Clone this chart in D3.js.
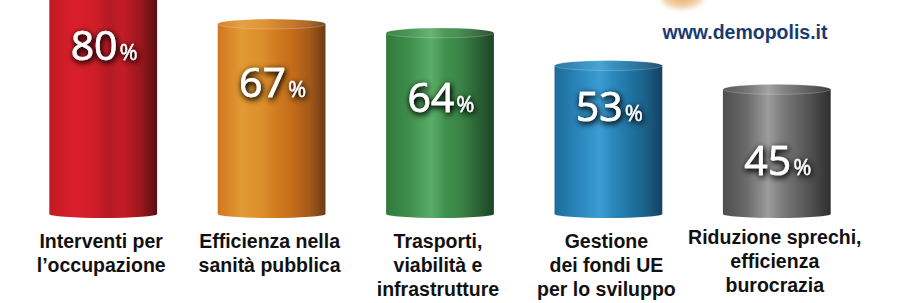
<!DOCTYPE html>
<html>
<head>
<meta charset="utf-8">
<script src="https://cdn.jsdelivr.net/npm/d3@7"></script>
<style>
  body { margin: 0; background: #fff; }
  svg { display: block; }
</style>
</head>
<body>
<svg id="chart"></svg>
<script>
// data
var categories = [
    ["Interventi per", "l\u2019occupazione"],
    ["Efficienza nella", "sanit\u00e0 pubblica"],
    ["Trasporti,", "viabilit\u00e0 e", "infrastrutture"],
    ["Gestione", "dei fondi UE", "per lo sviluppo"],
    ["Riduzione sprechi,", "efficienza", "burocrazia"]
]
var values = [80, 67, 64, 53, 45]
var siteLabel = "www.demopolis.it"

// cylinder shading, left -> right
var palettes = [
    ["#bf1a24", "#da1f2b", "#d01d28", "#b61a24", "#c41c27", "#9a161d", "#5a1015"],
    ["#d2761e", "#e29a33", "#dc8d2a", "#cf7b20", "#c66d1b", "#a45a19", "#6c3c14"],
    ["#2f7a3b", "#3f8f4c", "#5aae68", "#40904d", "#3a8546", "#2b6335", "#1c4425"],
    ["#1c6c99", "#2a85bb", "#3b9dd2", "#2b87bb", "#2176a6", "#1b5f88", "#143f5e"],
    ["#4e4e4e", "#6a6a6a", "#9c9c9c", "#7c7c7c", "#666666", "#4a4a4a", "#2e2e2e"]
]
var stopAt = [0, 0.22, 0.42, 0.55, 0.68, 0.85, 1]
// where the value label sits below the top of each bar
var labelDrop = [80, 78, 84, 60, 91]

var W = 900, H = 303
var baseY = 218
var capRy = 5

var svg = d3.select("#chart").attr("width", W).attr("height", H)
var defs = svg.append("defs")

var x = d3.scaleBand()
          .domain(d3.range(values.length))
          .range([19, 861])
          .paddingInner(0.36)
          .paddingOuter(0.18)

var y = d3.scaleLinear()
          .domain([0, 100])
          .range([baseY, baseY - 297])

// gradients
palettes.forEach((p, i) => {
    var g = defs.append("linearGradient")
                .attr("id", "cyl" + i)
                .attr("x1", "0%").attr("x2", "100%")
                .attr("y1", "0%").attr("y2", "0%")
    p.forEach((c, k) => {
        g.append("stop").attr("offset", stopAt[k]).attr("stop-color", c)
    })
    var gt = defs.append("linearGradient")
                 .attr("id", "cap" + i)
                 .attr("x1", "0%").attr("x2", "100%")
    p.forEach((c, k) => {
        gt.append("stop").attr("offset", stopAt[k])
          .attr("stop-color", d3.interpolateRgb(c, "#ffffff")(0.07))
    })
})

// dark glow behind white numbers
var f = defs.append("filter").attr("id", "glow")
            .attr("x", "-30%").attr("y", "-30%").attr("width", "160%").attr("height", "160%")
f.append("feGaussianBlur").attr("in", "SourceAlpha").attr("stdDeviation", 3).attr("result", "b")
f.append("feOffset").attr("in", "b").attr("dx", 0.5).attr("dy", 1.5).attr("result", "o")
f.append("feComponentTransfer").attr("in", "o").attr("result", "o2")
 .append("feFuncA").attr("type", "linear").attr("slope", 1.6)
f.append("feFlood").attr("flood-color", "#000").attr("flood-opacity", 0.9)
f.append("feComposite").attr("in2", "o2").attr("operator", "in").attr("result", "s")
var m = f.append("feMerge")
m.append("feMergeNode").attr("in", "s")
m.append("feMergeNode").attr("in", "SourceGraphic")

// soft blur for the logo fragment
defs.append("filter").attr("id", "soft")
    .append("feGaussianBlur").attr("stdDeviation", 2.5)
var lg = defs.append("radialGradient").attr("id", "logoGrad")
lg.append("stop").attr("offset", 0).attr("stop-color", "#e8ae6c")
lg.append("stop").attr("offset", 1).attr("stop-color", "#f5dcbc")

svg.append("ellipse")
   .attr("cx", 682).attr("cy", -2)
   .attr("rx", 21).attr("ry", 11)
   .attr("fill", "url(#logoGrad)")
   .attr("filter", "url(#soft)")

svg.append("text")
   .attr("x", 745).attr("y", 39)
   .attr("text-anchor", "middle")
   .attr("font-family", "'Liberation Sans', Arial, sans-serif")
   .attr("font-weight", "bold")
   .attr("font-size", 19.5)
   .attr("fill", "#1b3a70")
   .text(siteLabel)

// cylinders
var bars = svg.append("g")
              .selectAll("g")
              .data(values)
              .join("g")

bars.append("rect")
    .attr("x", (d, i) => x(i))
    .attr("y", (d) => y(d) + capRy)
    .attr("width", x.bandwidth())
    .attr("height", (d) => baseY - 4 - (y(d) + capRy))
    .attr("fill", (d, i) => `url(#cyl${i})`)

bars.append("ellipse")
    .attr("cx", (d, i) => x(i) + x.bandwidth() / 2)
    .attr("cy", baseY - 4)
    .attr("rx", x.bandwidth() / 2)
    .attr("ry", 4)
    .attr("fill", (d, i) => `url(#cyl${i})`)

bars.append("ellipse")
    .attr("cx", (d, i) => x(i) + x.bandwidth() / 2)
    .attr("cy", (d) => y(d) + capRy)
    .attr("rx", x.bandwidth() / 2)
    .attr("ry", capRy)
    .attr("fill", (d, i) => `url(#cap${i})`)
    .attr("stroke", "rgba(255,255,255,0.35)")
    .attr("stroke-width", 0.6)

// value labels
var vt = bars.append("text")
    .attr("x", (d, i) => x(i) + x.bandwidth() / 2 + 1)
    .attr("y", (d, i) => y(d) + labelDrop[i])
    .attr("text-anchor", "middle")
    .attr("font-family", "'Open Sans', 'DejaVu Sans', sans-serif")
    .attr("font-weight", 400)
    .attr("fill", "#fff")
    .attr("stroke", "#fff")
    .attr("stroke-width", 0.6)
    .attr("filter", "url(#glow)")
vt.append("tspan").attr("font-size", 41).text((d) => d)
vt.append("tspan").attr("font-size", 22).attr("dx", 2).attr("stroke-width", 0.3).text("%")

// category labels
bars.each(function(d, i) {
    var t = d3.select(this).append("text")
              .attr("text-anchor", "middle")
              .attr("font-family", "'Liberation Sans', Arial, sans-serif")
              .attr("font-weight", "bold")
              .attr("font-size", 19.5)
              .attr("fill", "#111")
    categories[i].forEach((line, k) => {
        t.append("tspan")
         .attr("x", x(i) + x.bandwidth() / 2 - 2)
         .attr("y", (i == 4 ? 244 : 248) + k * 24)
         .text(line)
    })
})
</script>
</body>
</html>
